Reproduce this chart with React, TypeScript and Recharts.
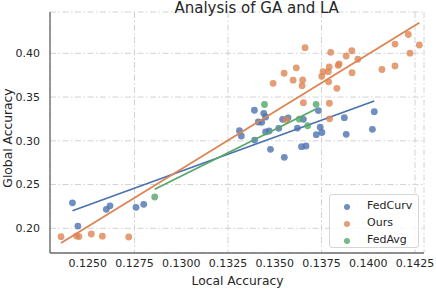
import React from 'react';
import { ScatterChart, Scatter, XAxis, YAxis, CartesianGrid, Legend, Customized } from 'recharts';

// ---- data ----
const SERIES_NAMES = ['FedCurv', 'Ours', 'FedAvg'];
const SERIES_COLORS = ['#4c72b0', '#dd8452', '#55a868'];

const X_TICKS = [0.125, 0.1275, 0.13, 0.1325, 0.135, 0.1375, 0.14, 0.1425];
const Y_TICKS = [0.2, 0.25, 0.3, 0.35, 0.4];
const X_DOMAIN = [0.12298, 0.14298];
const Y_DOMAIN = [0.1718, 0.4472];

const fedCurvX = [0.12418, 0.12447, 0.12599, 0.12619, 0.12758, 0.12799, 0.13311, 0.13321, 0.13391, 0.13392,
  0.13412, 0.1343, 0.13441, 0.13451, 0.13451, 0.1347, 0.13477, 0.13521, 0.13542, 0.13551,
  0.13571, 0.13621, 0.13643, 0.13653, 0.13667, 0.13733, 0.13743, 0.13752, 0.13722, 0.13872,
  0.13882, 0.14022, 0.14032];
const fedCurvY = [0.2291, 0.2026, 0.2217, 0.2257, 0.224, 0.2274, 0.3115, 0.3055, 0.3349, 0.3009,
  0.3215, 0.3211, 0.3314, 0.3272, 0.3101, 0.3112, 0.2903, 0.3143, 0.3246, 0.2811,
  0.3263, 0.3146, 0.2933, 0.3246, 0.2941, 0.3346, 0.3156, 0.3095, 0.307, 0.3264,
  0.3074, 0.3131, 0.3333];

const oursX = [0.12357, 0.1244, 0.12453, 0.12519, 0.12578, 0.12719, 0.13491, 0.1355, 0.13562, 0.13598,
  0.13615, 0.13649, 0.13646, 0.13653, 0.13662, 0.13751, 0.13758, 0.13786, 0.13791, 0.13788,
  0.13832, 0.13792, 0.13793, 0.13799, 0.13844, 0.13839, 0.13882, 0.13912, 0.13913, 0.13944,
  0.14073, 0.14143, 0.14143, 0.14214, 0.14223, 0.14273];
const oursY = [0.1904, 0.1912, 0.1906, 0.1935, 0.191, 0.1901, 0.3657, 0.3772, 0.3238, 0.3693,
  0.3834, 0.3695, 0.363, 0.3436, 0.4064, 0.3737, 0.379, 0.379, 0.3844, 0.3674,
  0.36, 0.3429, 0.3251, 0.4011, 0.388, 0.3861, 0.3969, 0.4029, 0.3778, 0.3932,
  0.3815, 0.3855, 0.4106, 0.4215, 0.4001, 0.4095];

const fedAvgX = [0.12858, 0.13445, 0.13631, 0.13676, 0.13721];
const fedAvgY = [0.2358, 0.3415, 0.3247, 0.3172, 0.3417];

// regression line end points
const fedCurvFitX = [0.12418, 0.14032];
const fedCurvFitY = [0.2201, 0.3455];
const oursFitX = [0.12357, 0.14273];
const oursFitY = [0.1832, 0.435];
const fedAvgFitX = [0.12858, 0.13721];
const fedAvgFitY = [0.2446, 0.3364];

const toPoints = (xs: number[], ys: number[]) => xs.map((x, i) => ({ x, y: ys[i] }));

const seriesPoints = [toPoints(fedCurvX, fedCurvY), toPoints(oursX, oursY), toPoints(fedAvgX, fedAvgY)];
const seriesFits = [toPoints(fedCurvFitX, fedCurvFitY), toPoints(oursFitX, oursFitY), toPoints(fedAvgFitX, fedAvgFitY)];

const FONT = 'DejaVu Sans, sans-serif';
const TEXT = '#262626';

const dot = (color: string) => (props: any) => (
  <circle cx={props.cx} cy={props.cy} r={3.4} fill={color} fillOpacity={0.8} />
);
const noDot = () => <g />;

const Texts = () => (
  <g fontFamily={FONT} fill={TEXT}>
    <text x={256.7} y={13} fontSize={15} textAnchor="middle">Analysis of GA and LA</text>
    <text x={237.5} y={284.5} fontSize={12.3} textAnchor="middle">Local Accuracy</text>
    <text x={11.5} y={138} fontSize={12.3} textAnchor="middle" transform="rotate(-90 11.5 138)">Global Accuracy</text>
  </g>
);

const LegendBox = () => (
  <div style={{
    width: 90, height: 54, boxSizing: 'border-box', border: '1px solid #d6d6d6', borderRadius: 3,
    background: 'rgba(255,255,255,0.8)', fontFamily: FONT, fontSize: 11, color: TEXT, position: 'relative',
  }}>
    {SERIES_NAMES.map((name, i) => (
      <div key={name} style={{ position: 'absolute', left: 0, top: 3 + i * 17.2, height: 17, width: 88 }}>
        <svg width={12} height={12} style={{ position: 'absolute', left: 11, top: 2.5 }}>
          <circle cx={6} cy={6} r={3} fill={SERIES_COLORS[i]} fillOpacity={0.8} />
        </svg>
        <span style={{ position: 'absolute', left: 37, top: 1, lineHeight: '14px', whiteSpace: 'nowrap' }}>{name}</span>
      </div>
    ))}
  </div>
);

export default function App() {
  return (
    <div style={{ position: 'absolute', left: 0, top: 0, width: 436, height: 290, background: '#fff' }}>
      <ScatterChart width={436} height={290} margin={{ top: 12, right: 12, bottom: 0, left: 0 }}>
        <CartesianGrid stroke="#d2d2d2" strokeDasharray="6 2.5 1.5 2.5" strokeWidth={1} />
        <XAxis
          type="number"
          dataKey="x"
          domain={X_DOMAIN}
          ticks={X_TICKS}
          allowDataOverflow
          tickFormatter={(v: number) => v.toFixed(4)}
          height={37}
          tickLine={false}
          tickSize={4}
          axisLine={{ stroke: '#6e6e6e', strokeWidth: 1.4 }}
          tick={{ fontSize: 11, fill: TEXT, fontFamily: FONT }}
        />
        <YAxis
          type="number"
          dataKey="y"
          domain={Y_DOMAIN}
          ticks={Y_TICKS}
          allowDataOverflow
          tickFormatter={(v: number) => v.toFixed(2)}
          width={50}
          tickLine={false}
          tickSize={8}
          axisLine={{ stroke: '#6e6e6e', strokeWidth: 1.4 }}
          tick={{ fontSize: 11, fill: TEXT, fontFamily: FONT }}
        />
        {SERIES_NAMES.map((name, i) => [
          <Scatter key={name + '-pts'} name={name} data={seriesPoints[i]} shape={dot(SERIES_COLORS[i])} isAnimationActive={false} />,
          <Scatter key={name + '-fit'} data={seriesFits[i]} shape={noDot} legendType="none"
            line={{ stroke: SERIES_COLORS[i], strokeWidth: 1.8 }} isAnimationActive={false} />,
        ])}
        <Legend layout="vertical" align="center" verticalAlign="middle" content={() => <LegendBox />}
          wrapperStyle={{ left: 329, top: 194, width: 90, height: 54 }} />
        <Customized component={Texts} />
      </ScatterChart>
    </div>
  );
}
